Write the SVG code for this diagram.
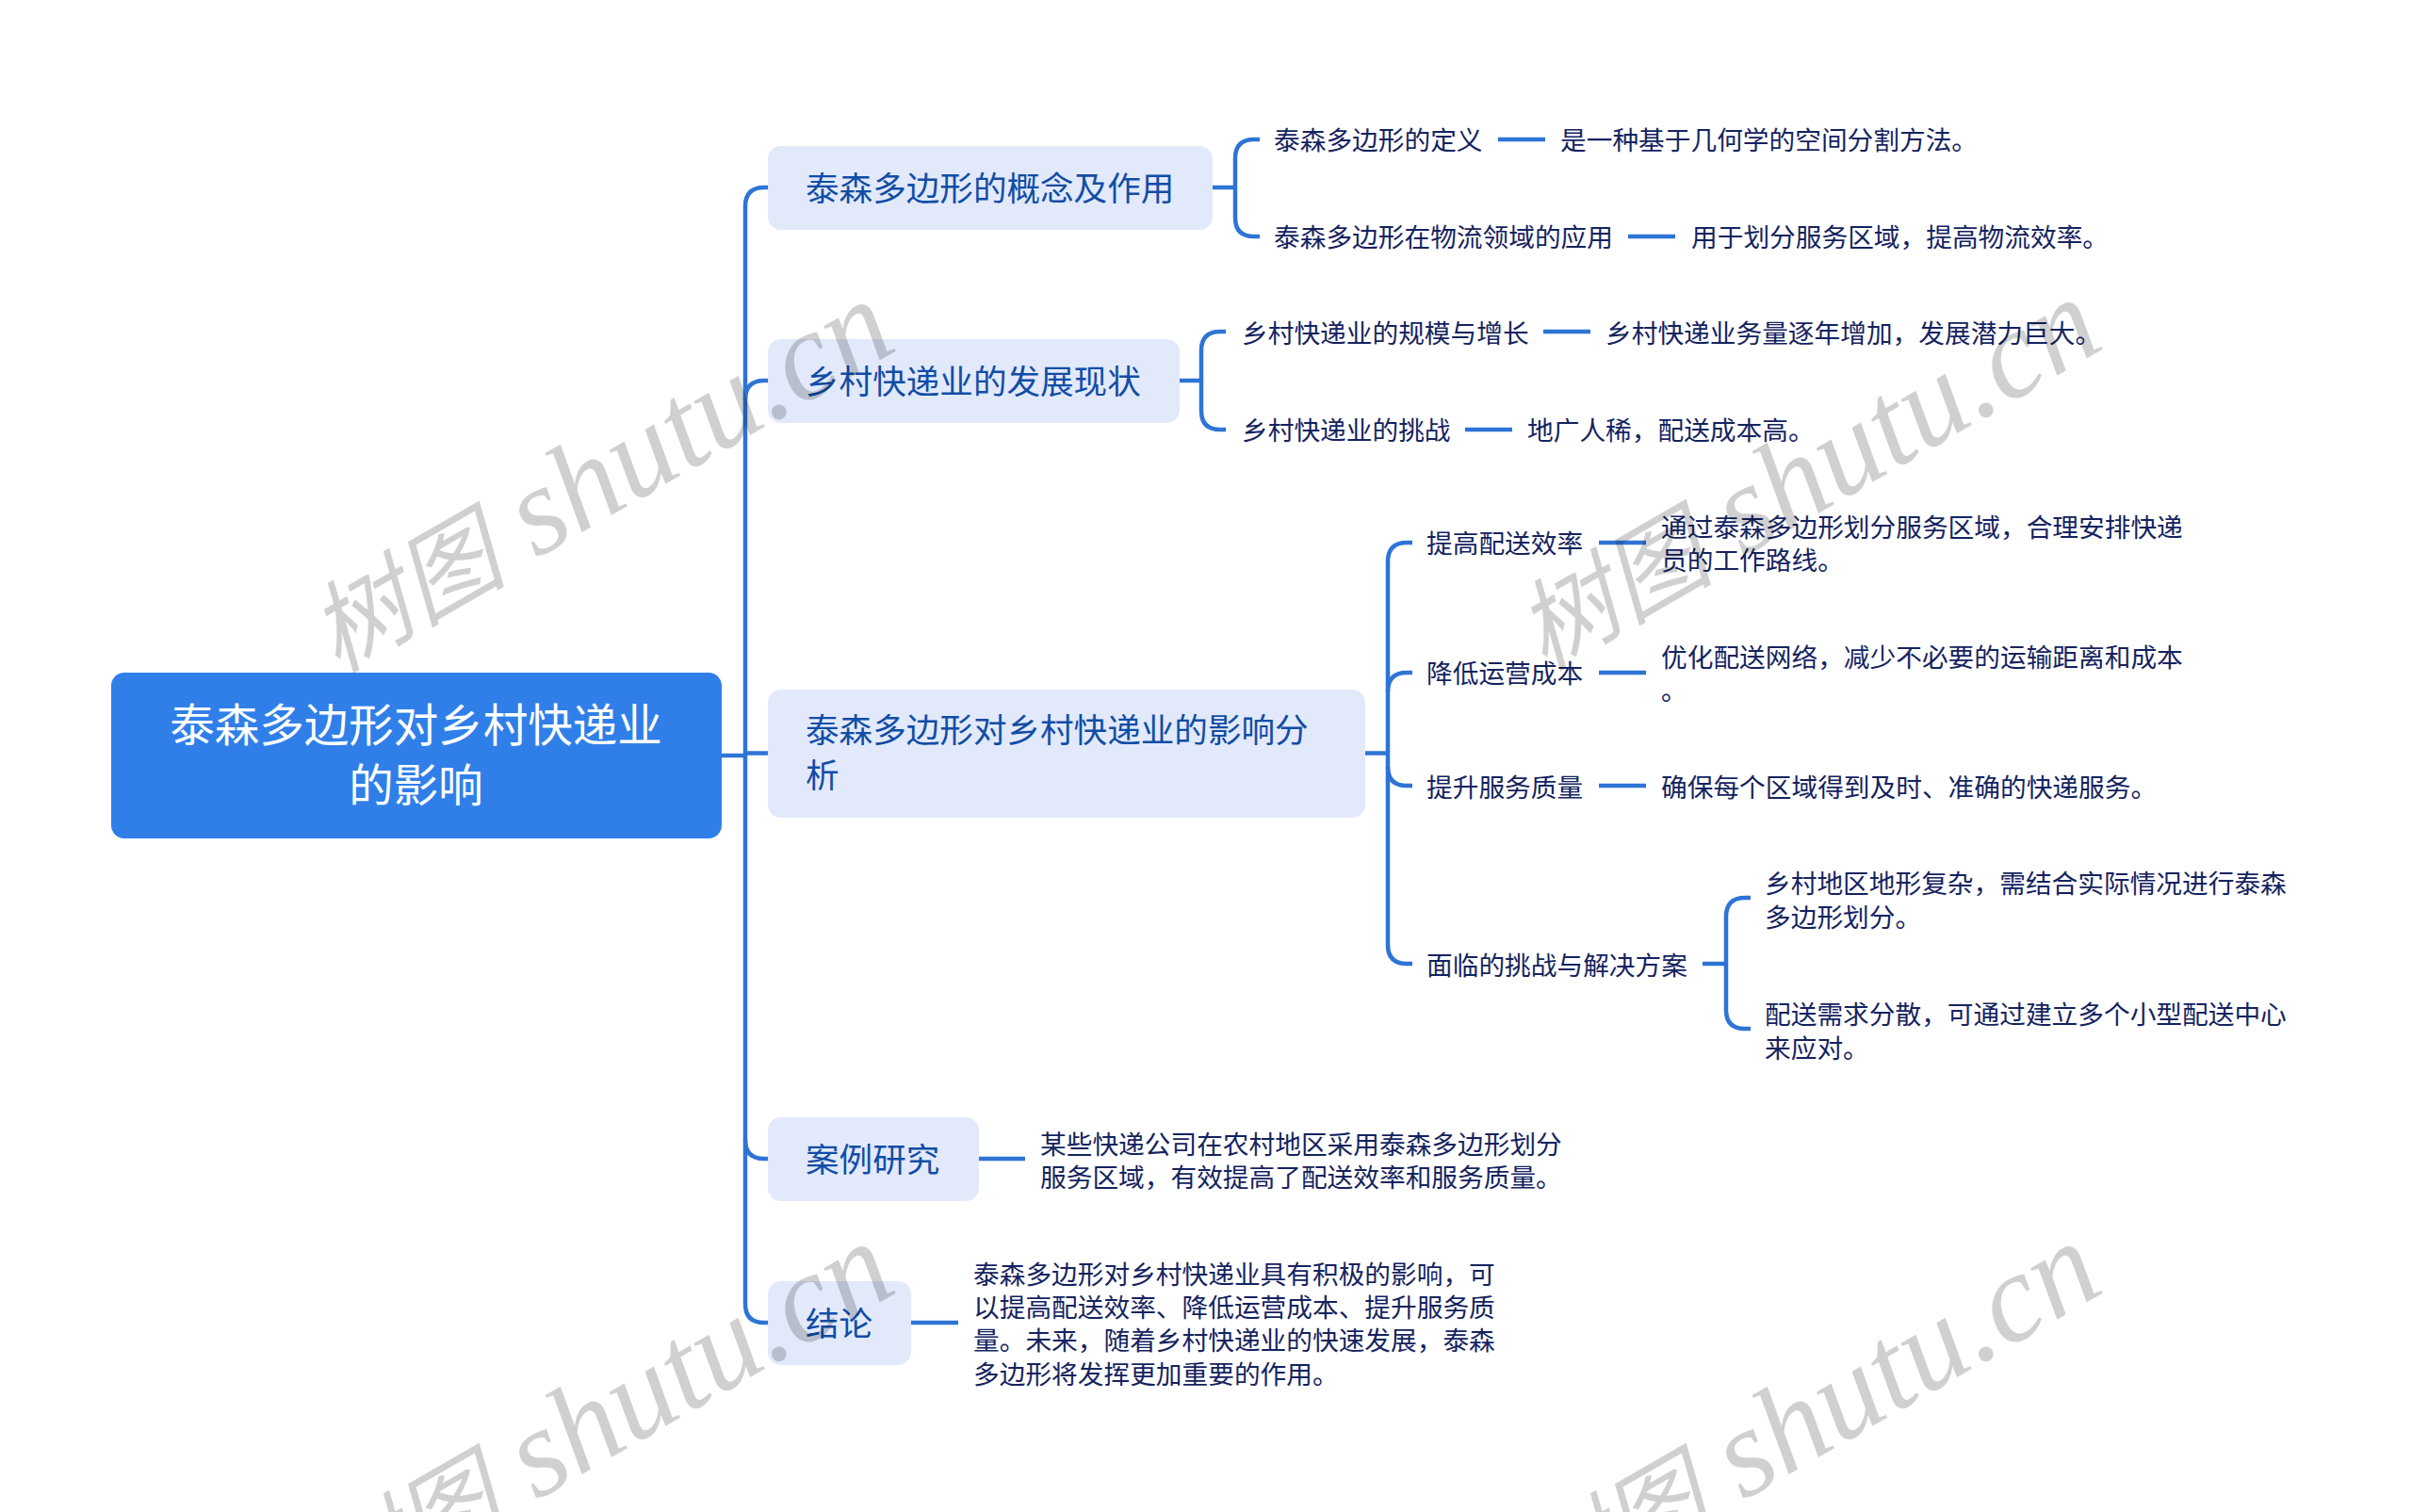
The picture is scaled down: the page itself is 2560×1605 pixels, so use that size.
<svg xmlns="http://www.w3.org/2000/svg" width="2560" height="1605" viewBox="0 0 2560 1605">
<style>
text{font-family:"Noto Sans CJK SC","Noto Sans",sans-serif}
.root{fill:#307fe9}
.l1{fill:#e2e9fb}
.rt{font-size:47.5px;fill:#fff;text-anchor:middle}
.t1{font-size:35.6px;fill:#114da6}
.t2{font-size:27.7px;fill:#14235f}
.c{fill:none;stroke:#2e74d6;stroke-width:4.5;stroke-linecap:butt}
.wm{font-family:"Liberation Serif","Noto Sans CJK SC",serif;font-style:italic;font-size:133px;fill:#000;opacity:.18}
.wc{font-size:105px}
</style>
<rect width="2560" height="1605" fill="#fff"/>
<g id="connectors">
<path class="c" d="M766 802H791"/>
<path class="c" d="M815 199H811Q791 199 791 219V1384Q791 1404 811 1404H815"/>
<path class="c" d="M791 424Q791 404 811 404H815"/>
<path class="c" d="M791 799.5H815"/>
<path class="c" d="M791 1210Q791 1230 811 1230H815"/>
<path class="c" d="M1287 199H1311M1337 148H1331Q1311 148 1311 168V231Q1311 251 1331 251H1337"/>
<path class="c" d="M1590 148H1640M1728 251H1778"/>
<path class="c" d="M1252 404H1275M1301 352H1295Q1275 352 1275 372V436Q1275 456 1295 456H1301"/>
<path class="c" d="M1638 352H1688M1555 456H1605"/>
<path class="c" d="M1449 799.5H1473M1499 576H1493Q1473 576 1473 596V1003Q1473 1023 1493 1023H1499"/>
<path class="c" d="M1473 734Q1473 714 1493 714H1499M1473 814Q1473 834 1493 834H1499"/>
<path class="c" d="M1697 576H1747M1697 714H1747M1697 834H1747"/>
<path class="c" d="M1807 1023H1832M1858 953H1852Q1832 953 1832 973V1072Q1832 1092 1852 1092H1858"/>
<path class="c" d="M1038 1230H1088M967 1404H1017"/>
</g>
<g id="root"><rect class="root" x="118" y="714" width="648" height="176" rx="14"/>
<text class="rt" x="441.5" y="786.5">泰森多边形对乡村快递业</text><text class="rt" x="441.5" y="850.5">的影响</text></g>
<g id="n1"><rect class="l1" x="815" y="155" width="472" height="89" rx="14"/><text class="t1" x="855" y="212.5">泰森多边形的概念及作用</text></g>
<g id="n1a"><text class="t2" x="1352" y="159">泰森多边形的定义</text></g>
<g id="n1a1"><text class="t2" x="1656" y="159">是一种基于几何学的空间分割方法。</text></g>
<g id="n1b"><text class="t2" x="1352" y="261.5">泰森多边形在物流领域的应用</text></g>
<g id="n1b1"><text class="t2" x="1795" y="261.5">用于划分服务区域，提高物流效率。</text></g>
<g id="n2"><rect class="l1" x="815" y="360" width="437" height="89" rx="14"/><text class="t1" x="855" y="417.5">乡村快递业的发展现状</text></g>
<g id="n2a"><text class="t2" x="1318" y="364">乡村快递业的规模与增长</text></g>
<g id="n2a1"><text class="t2" x="1704" y="364">乡村快递业务量逐年增加，发展潜力巨大。</text></g>
<g id="n2b"><text class="t2" x="1318" y="467">乡村快递业的挑战</text></g>
<g id="n2b1"><text class="t2" x="1621" y="467">地广人稀，配送成本高。</text></g>
<g id="n3"><rect class="l1" x="815" y="732" width="634" height="136" rx="14"/><text class="t1" x="855" y="787.5">泰森多边形对乡村快递业的影响分</text><text class="t1" x="855" y="835.5">析</text></g>
<g id="n3a"><text class="t2" x="1514" y="587">提高配送效率</text></g>
<g id="n3a1"><text class="t2" x="1763" y="570">通过泰森多边形划分服务区域，合理安排快递</text><text class="t2" x="1763" y="605">员的工作路线。</text></g>
<g id="n3b"><text class="t2" x="1514" y="725">降低运营成本</text></g>
<g id="n3b1"><text class="t2" x="1763" y="708">优化配送网络，减少不必要的运输距离和成本</text><text class="t2" x="1763" y="743">。</text></g>
<g id="n3c"><text class="t2" x="1514" y="846">提升服务质量</text></g>
<g id="n3c1"><text class="t2" x="1763" y="846">确保每个区域得到及时、准确的快递服务。</text></g>
<g id="n3d"><text class="t2" x="1514" y="1035">面临的挑战与解决方案</text></g>
<g id="n3d1"><text class="t2" x="1873" y="948">乡村地区地形复杂，需结合实际情况进行泰森</text><text class="t2" x="1873" y="984">多边形划分。</text></g>
<g id="n3d2"><text class="t2" x="1873" y="1087">配送需求分散，可通过建立多个小型配送中心</text><text class="t2" x="1873" y="1123">来应对。</text></g>
<g id="n4"><rect class="l1" x="815" y="1186" width="224" height="89" rx="14"/><text class="t1" x="855" y="1243.5">案例研究</text></g>
<g id="n4a"><text class="t2" x="1104" y="1225">某些快递公司在农村地区采用泰森多边形划分</text><text class="t2" x="1104" y="1260">服务区域，有效提高了配送效率和服务质量。</text></g>
<g id="n5"><rect class="l1" x="815" y="1360" width="152" height="89" rx="14"/><text class="t1" x="855" y="1417.5">结论</text></g>
<g id="n5a"><text class="t2" x="1033" y="1362.5">泰森多边形对乡村快递业具有积极的影响，可</text><text class="t2" x="1033" y="1398">以提高配送效率、降低运营成本、提升服务质</text><text class="t2" x="1033" y="1433">量。未来，随着乡村快递业的快速发展，泰森</text><text class="t2" x="1033" y="1469">多边形将发挥更加重要的作用。</text></g>
<g id="watermark">
<text class="wm" transform="translate(358 715) rotate(-30)"><tspan class="wc">树图</tspan> shutu.cn</text>
<text class="wm" transform="translate(1639 713) rotate(-30)"><tspan class="wc">树图</tspan> shutu.cn</text>
<text class="wm" transform="translate(358 1715) rotate(-30)"><tspan class="wc">树图</tspan> shutu.cn</text>
<text class="wm" transform="translate(1639 1715) rotate(-30)"><tspan class="wc">树图</tspan> shutu.cn</text>
</g>
</svg>
